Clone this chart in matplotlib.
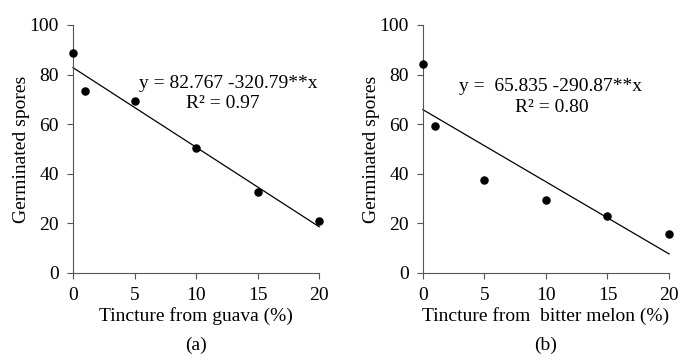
import matplotlib.pyplot as plt
import numpy as np

plt.rcParams['font.family'] = ['Liberation Serif', 'DejaVu Serif']
plt.rcParams['font.size'] = 14

# data
conc = [0, 1, 5, 10, 15, 20]
guava = [88.7, 73.2, 69.4, 50.5, 32.5, 20.9]
bitter_melon = [84.4, 59.3, 37.6, 29.4, 23.0, 15.5]

# regression coefficients (x as fraction)
fit_a = (82.767, -320.79)
fit_b = (65.835, -290.87)

panels = [
    {"y": guava, "fit": fit_a, "xlabel": "Tincture from guava (%)", "tag": "(a)",
     "eq": "y = 82.767 -320.79**x", "r2": "R² = 0.97",
     "left": 0.107, "eqpos": (12.6, 76.5), "r2pos": (12.2, 68.3)},
    {"y": bitter_melon, "fit": fit_b, "xlabel": "Tincture from  bitter melon (%)", "tag": "(b)",
     "eq": "y =  65.835 -290.87**x", "r2": "R² = 0.80",
     "left": 0.620, "eqpos": (10.4, 75), "r2pos": (10.5, 66.5)},
]

fig = plt.figure(figsize=(6.82, 3.61), dpi=100)

for p in panels:
    ax = fig.add_axes([p["left"], 0.244, 0.361, 0.687])
    ax.scatter(conc, p["y"], s=26, color='black', zorder=3, clip_on=False)
    xs = np.array([0, 20])
    ax.plot(xs, p["fit"][0] + p["fit"][1] * xs / 100, color='black', lw=0.9, clip_on=False)
    ax.set_xlim(0, 20)
    ax.set_ylim(0, 100)
    ax.set_xticks([0, 5, 10, 15, 20])
    ax.set_yticks([0, 20, 40, 60, 80, 100])
    for s in ['top', 'right']:
        ax.spines[s].set_visible(False)
    for s in ['left', 'bottom']:
        ax.spines[s].set_color('#555555')
        ax.spines[s].set_linewidth(0.8)
    ax.tick_params(direction='out', length=4, width=0.8, color='#555555', labelsize=14)
    ax.tick_params(axis='x', pad=6)
    ax.tick_params(axis='y', pad=6)
    ax.set_xlabel(p["xlabel"], fontsize=14, labelpad=2)
    ax.set_ylabel("Germinated spores", fontsize=14, labelpad=0)
    ax.text(*p["eqpos"], p["eq"], ha='center', va='center', fontsize=14)
    ax.text(*p["r2pos"], p["r2"], ha='center', va='center', fontsize=14)
    fig.text(p["left"] + 0.361 / 2, 0.042, p["tag"], ha='center', va='center', fontsize=14)

fig.savefig("out.png", dpi=100)
